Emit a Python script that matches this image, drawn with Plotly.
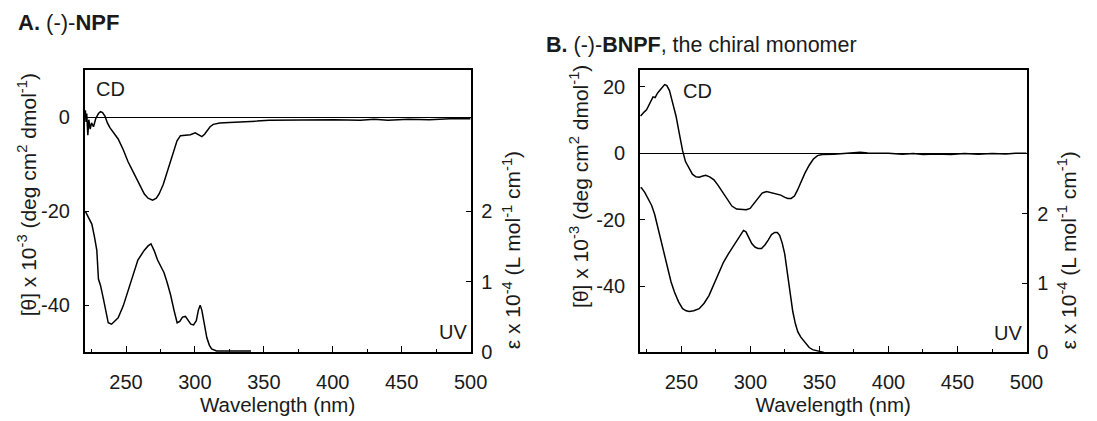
import plotly.graph_objects as go

# ---------------- data ----------------
# Panel A: (-)-NPF
a_cd_wl = [220.5, 221.0, 221.5, 222.3, 223.0, 224.0, 225.0, 226.4, 228.0, 230.0, 231.5, 233.0,
           234.8, 236.5, 238.3, 241.0, 244.3, 248.0, 251.4, 255.0, 258.6, 261.0, 263.3, 266.0,
           269.3, 272.0, 274.0, 277.0, 280.0, 282.5, 284.8, 287.0, 289.5, 293.0, 296.7, 300.2,
           302.5, 305.0, 307.0, 308.6, 311.0, 313.3, 318.0, 325.0, 334.8, 345.0, 353.8, 370.0,
           401.0, 420.0, 430.0, 440.0, 455.0, 470.0, 485.0, 500.0]
a_cd = [1.5, -1.0, 0.8, -3.8, -0.5, -2.5, -1.2, -2.0, -0.3, 0.8, 1.2, 1.0,
        0.2, -1.2, -2.2, -3.4, -4.6, -6.9, -9.4, -11.5, -13.6, -15.2, -16.3, -17.2,
        -17.6, -17.2, -16.3, -14.3, -11.5, -9.0, -6.7, -5.0, -3.9, -3.8, -3.7, -3.3,
        -3.6, -4.1, -3.6, -2.9, -2.0, -1.5, -1.2, -1.1, -1.0, -0.8, -0.6, -0.55,
        -0.5, -0.6, -0.4, -0.6, -0.4, -0.5, -0.3, -0.3]

a_uv_wl = [220.5, 222.5, 225.2, 227.0, 228.8, 230.0, 231.5, 233.6, 235.5, 237.1, 239.5, 242.0,
           244.3, 248.0, 251.4, 255.0, 258.6, 263.3, 266.0, 268.1, 270.5, 272.9, 275.5, 277.6,
           280.0, 282.4, 284.8, 287.1, 289.0, 291.0, 293.1, 295.0, 297.0, 299.0, 301.0, 302.5,
           303.8, 305.0, 306.2, 307.5, 308.6, 310.5, 312.1, 315.7, 340.7]
a_uv = [2.0, 1.92, 1.82, 1.65, 1.45, 1.04, 0.95, 0.76, 0.55, 0.42, 0.40, 0.44,
        0.49, 0.66, 0.86, 1.08, 1.31, 1.45, 1.51, 1.54, 1.44, 1.31, 1.22, 1.13,
        0.98, 0.81, 0.60, 0.42, 0.44, 0.50, 0.51, 0.46, 0.40, 0.39, 0.45, 0.60,
        0.67, 0.60, 0.49, 0.33, 0.21, 0.10, 0.05, 0.02, 0.02]

# Panel B: (-)-BNPF
b_cd_wl = [220.5, 221.2, 223.0, 224.8, 227.0, 229.5, 231.0, 232.5, 234.3, 236.0, 237.9, 239.5,
           241.4, 243.5, 246.2, 248.5, 250.9, 253.0, 255.7, 258.0, 260.5, 263.0, 265.0, 267.6,
           270.5, 273.6, 276.5, 279.5, 283.0, 286.6, 290.0, 293.8, 297.0, 299.8, 302.5, 305.7,
           308.5, 311.7, 315.0, 318.8, 322.0, 325.0, 327.1, 329.5, 331.9, 334.0, 336.7, 339.5,
           342.6, 345.5, 348.6, 352.0, 360.5, 370.0, 379.5, 385.0, 400.0, 410.0, 418.0, 425.0,
           435.0, 445.0, 455.0, 465.0, 475.0, 485.0, 492.0, 500.0]
b_cd = [11.2, 11.6, 12.4, 13.1, 15.0, 17.0, 16.8, 18.0, 18.9, 19.6, 20.7, 20.4,
        18.9, 15.5, 11.1, 6.0, 0.8, -2.5, -4.6, -6.3, -7.1, -7.2, -6.9, -6.6,
        -7.1, -8.0, -9.6, -11.5, -13.7, -15.9, -16.8, -16.9, -17.0, -16.6, -15.2, -13.4,
        -12.0, -11.5, -11.8, -12.2, -12.6, -13.3, -13.6, -13.6, -12.9, -11.2, -8.5, -6.0,
        -3.6, -1.8, -0.7, -0.4, -0.3, 0.0, 0.3, 0.1, 0.0, -0.3, -0.1, -0.4,
        -0.2, -0.4, -0.1, -0.3, -0.1, -0.2, 0.0, 0.0]

b_uv_wl = [220.5, 221.2, 223.5, 225.9, 228.5, 230.7, 233.0, 235.5, 238.0, 240.2, 242.5, 245.0,
           248.0, 250.9, 253.5, 255.7, 259.0, 262.9, 266.5, 270.0, 273.5, 277.1, 280.5, 284.3,
           287.5, 290.2, 292.8, 295.0, 296.8, 298.6, 301.0, 303.3, 305.5, 308.1, 310.5, 312.9,
           315.3, 317.6, 319.5, 321.2, 323.0, 324.8, 326.0, 327.1, 329.0, 330.7, 332.5, 334.3,
           336.5, 339.1, 341.0, 342.6, 345.0, 348.6, 353.3]
b_uv = [2.38, 2.37, 2.31, 2.22, 2.12, 1.99, 1.80, 1.57, 1.36, 1.19, 1.02, 0.87,
        0.73, 0.63, 0.60, 0.59, 0.60, 0.63, 0.71, 0.82, 0.98, 1.15, 1.30, 1.43,
        1.53, 1.62, 1.70, 1.76, 1.74, 1.66, 1.57, 1.52, 1.50, 1.50, 1.55, 1.62,
        1.70, 1.73, 1.73, 1.69, 1.58, 1.43, 1.25, 1.05, 0.80, 0.59, 0.42, 0.30,
        0.22, 0.16, 0.11, 0.07, 0.04, 0.02, 0.0]

x_ticks = [250, 300, 350, 400, 450, 500]
a_left_ticks = [0, -20, -40]
a_left_labels = ["0", "-20", "-40"]
b_left_ticks = [20, 0, -20, -40]
b_left_labels = ["20", "0", "-20", "-40"]
right_ticks = [0, 1, 2]

title_a = "<b>A.</b> (-)-<b>NPF</b>"
title_b = "<b>B.</b> (-)-<b>BNPF</b>, the chiral monomer"
left_title = "[θ] x 10<sup>-3</sup> (deg cm<sup>2</sup> dmol<sup>-1</sup>)"
right_title = "ε x 10<sup>-4</sup> (L mol<sup>-1</sup> cm<sup>-1</sup>)"
x_title = "Wavelength (nm)"

# ---------------- figure ----------------
FONT = "Liberation Sans, Arial, sans-serif"
TXT = "#1a1a1a"
W, H = 1097, 421

fig = go.Figure()
line = dict(color="black", width=1.5)
fig.add_trace(go.Scatter(x=a_cd_wl, y=a_cd, mode="lines", line=line, xaxis="x", yaxis="y"))
fig.add_trace(go.Scatter(x=a_uv_wl, y=a_uv, mode="lines", line=line, xaxis="x", yaxis="y2"))
fig.add_trace(go.Scatter(x=b_cd_wl, y=b_cd, mode="lines", line=line, xaxis="x2", yaxis="y3"))
fig.add_trace(go.Scatter(x=b_uv_wl, y=b_uv, mode="lines", line=line, xaxis="x2", yaxis="y4"))

ydom = [0.1405, 0.8285]
tickfont = dict(family=FONT, size=20, color=TXT)

def xax(domain, anchor):
    return dict(domain=domain, anchor=anchor, range=[220, 500], tickvals=x_ticks,
                ticks="inside", ticklen=7, tickwidth=1.3, tickcolor="black",
                minor=dict(ticks="inside", dtick=25, tick0=225, ticklen=4, tickcolor="black", tickwidth=1.3),
                showline=True, linecolor="black", linewidth=1.5, mirror=True,
                showgrid=False, zeroline=False, tickfont=tickfont, ticklabelstandoff=11,
                title=dict(text=x_title, font=dict(family=FONT, size=20.5, color=TXT), standoff=5))

def yleft(rng, ticks, labels, anchor):
    return dict(domain=ydom, anchor=anchor, range=rng, tickvals=ticks, ticktext=labels,
                ticks="inside", ticklen=5, tickwidth=1.3, tickcolor="black",
                showline=True, linecolor="black", linewidth=1.5,
                showgrid=False, zeroline=True, zerolinecolor="black", zerolinewidth=1.2,
                tickfont=tickfont, ticklabelstandoff=9)

def yright(rng, overlay, anchor):
    return dict(range=rng, overlaying=overlay, anchor=anchor, side="right",
                tickvals=right_ticks, ticks="inside", ticklen=5, tickwidth=1.3, tickcolor="black",
                showline=True, linecolor="black", linewidth=1.5,
                showgrid=False, zeroline=False, tickfont=tickfont, ticklabelstandoff=5)

fig.update_layout(
    width=W, height=H, margin=dict(l=0, r=0, t=0, b=0),
    paper_bgcolor="white", plot_bgcolor="white", showlegend=False,
    font=dict(family=FONT, color=TXT),
    xaxis=xax([86 / W, 478 / W], "y"),
    yaxis=yleft([-50, 10], a_left_ticks, a_left_labels, "x"),
    yaxis2=yright([0, 4.0], "y", "x"),
    xaxis2=xax([650 / W, 1042.7 / W], "y3"),
    yaxis3=yleft([-60, 25], b_left_ticks, b_left_labels, "x2"),
    yaxis4=yright([0, 4.07], "y3", "x2"),
)

def ann(text, x, y, size=20, angle=0, xanchor="center"):
    fig.add_annotation(text=text, x=x / W, y=1 - y / H, xref="paper", yref="paper",
                       showarrow=False, textangle=angle, xanchor=xanchor, yanchor="middle",
                       font=dict(family=FONT, size=size, color=TXT))

ann(title_a, 16, 23, size=22, xanchor="left")
ann(title_b, 553, 46, size=21.5, xanchor="left")
ann(left_title, 27, 200, size=21, angle=-90)
ann(right_title, 520, 257, size=21, angle=-90)
ann(left_title, 588, 191, size=21, angle=-90)
ann(right_title, 1084, 257, size=21, angle=-90)
ann("CD", 112, 91)
ann("UV", 460, 341)
ann("CD", 708, 93)
ann("UV", 1024, 342)

fig.write_html("out.html")
